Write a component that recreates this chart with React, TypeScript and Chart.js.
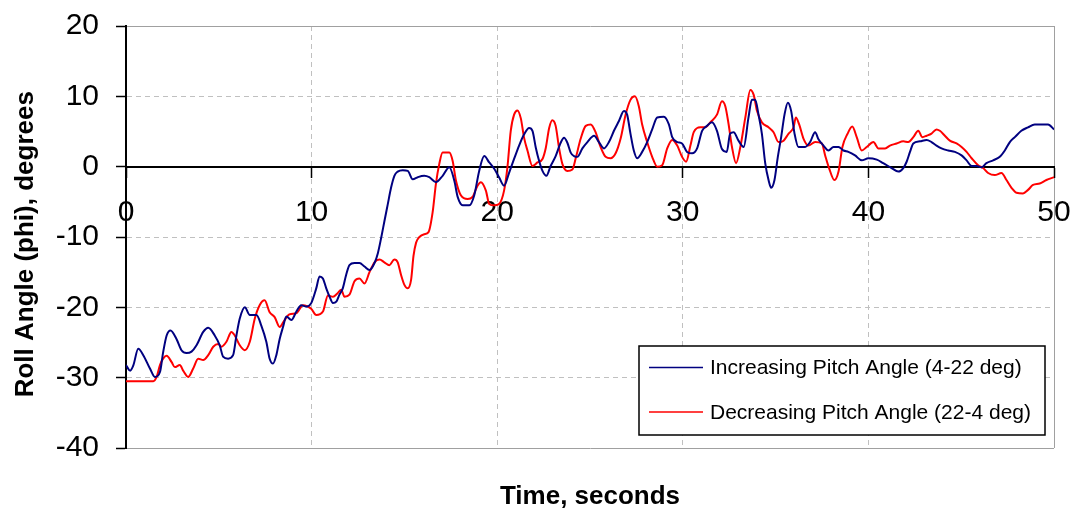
import React, { useEffect, useRef } from "react";
import { Chart, registerables } from "chart.js";

Chart.register(...registerables);

const seriesNames = ["Increasing Pitch Angle (4-22 deg)", "Decreasing Pitch Angle (22-4 deg)"];
const seriesColors = ["#000080", "#ff0000"];

const blueT = [0, 0.22, 0.39, 0.66, 0.93, 1.29, 1.56, 1.83, 2.0, 2.19, 2.4, 2.72, 2.99, 3.26, 3.53, 3.8, 4.16, 4.43, 4.78, 5.05, 5.23, 5.5, 5.77, 5.95, 6.13, 6.4, 6.67, 7.03, 7.29, 7.56, 7.74, 7.92, 8.1, 8.28, 8.46, 8.64, 8.91, 9.18, 9.44, 9.71, 9.98, 10.25, 10.43, 10.61, 10.79, 10.97, 11.15, 11.33, 11.5, 11.68, 11.86, 12.04, 12.31, 12.58, 12.85, 13.12, 13.39, 13.57, 13.75, 13.92, 14.1, 14.28, 14.46, 14.64, 14.91, 15.18, 15.45, 15.72, 16.07, 16.34, 16.7, 17.06, 17.42, 17.69, 17.87, 18.14, 18.5, 18.76, 19.03, 19.3, 19.57, 19.84, 20.1, 20.37, 20.65, 20.91, 21.18, 21.45, 21.72, 21.9, 22.08, 22.26, 22.44, 22.65, 22.88, 23.15, 23.42, 23.6, 23.78, 23.96, 24.14, 24.32, 24.59, 24.86, 25.22, 25.48, 25.75, 26.02, 26.29, 26.56, 26.83, 27.0, 27.18, 27.36, 27.54, 27.81, 28.08, 28.35, 28.62, 28.98, 29.25, 29.43, 29.7, 29.96, 30.23, 30.5, 30.77, 31.04, 31.3, 31.57, 31.84, 32.11, 32.37, 32.55, 32.74, 33.0, 33.28, 33.54, 33.72, 33.9, 34.08, 34.26, 34.44, 34.62, 34.76, 34.94, 35.12, 35.3, 35.48, 35.66, 35.84, 36.02, 36.23, 36.59, 36.86, 37.13, 37.31, 37.58, 37.85, 38.12, 38.39, 38.66, 38.92, 39.28, 39.64, 40.0, 40.45, 40.8, 41.25, 41.61, 41.88, 42.06, 42.24, 42.42, 42.78, 43.14, 43.4, 43.67, 43.94, 44.3, 44.66, 45.02, 45.29, 45.56, 45.82, 46.09, 46.36, 46.72, 47.08, 47.35, 47.62, 47.89, 48.24, 48.6, 48.96, 49.32, 49.68, 50];
const blueV = [-28.2, -29, -28.3, -25.9, -26.8, -28.7, -29.9, -29.2, -26.4, -24, -23.3, -24.5, -26.1, -26.5, -26.3, -25.4, -23.5, -22.9, -24, -25.4, -27, -27.3, -26.8, -24, -21.6, -20, -21.1, -21.1, -22.6, -24.9, -27.3, -28, -26.8, -24.5, -22.8, -21.3, -21.8, -20.6, -19.7, -19.9, -19.4, -17.3, -15.6, -15.9, -17.3, -18.5, -19.4, -19.2, -18.2, -17.3, -15.4, -14, -13.7, -13.7, -14.2, -14.7, -13.7, -12.3, -10.1, -7.8, -5.4, -3, -1.3, -0.7, -0.5, -0.6, -1.8, -1.5, -1.3, -1.5, -2.2, -1.3, -0.1, -2, -4.3, -5.5, -5.5, -4.1, -0.6, 1.5, 0.6, -0.3, -1.5, -2.7, -0.8, 1.1, 3, 4.6, 5.5, 5.1, 2.7, 0.8, -0.6, -1.3, 0.1, 1.5, 3.4, 4.1, 3.4, 2, 1.5, 1.4, 2.6, 3.5, 4.4, 3.5, 2.6, 3.5, 5.1, 6.5, 7.9, 7.4, 4.7, 2.3, 1.2, 2.1, 3.5, 5.3, 7, 7.1, 6, 4.2, 3.5, 3.3, 2.1, 1.9, 2.6, 5.1, 5.8, 6.3, 5.1, 2.5, 2.1, 4.7, 4.9, 3.7, 2.8, 7, 9.5, 9.5, 7.4, 4.7, 0.5, -1.9, -3, -1.9, 1.4, 4.2, 7.4, 9.1, 7.9, 4.7, 2.8, 2.8, 3.5, 4.9, 3.9, 3, 2.3, 2.8, 2.8, 2.3, 2.1, 1.6, 0.9, 1.2, 1, 0.5, -0.2, -0.7, -0.2, 0.7, 2.1, 3.3, 3.6, 3.8, 3.5, 3, 2.6, 2.3, 2.1, 1.6, 0.9, 0.1, 0.1, -0.1, 0.5, 0.9, 1.4, 2.3, 3.5, 4.2, 5.1, 5.6, 6, 6, 6, 5.3];

const redT = [0, 1.47, 1.65, 1.83, 2.0, 2.19, 2.46, 2.63, 2.9, 3.08, 3.35, 3.62, 3.89, 4.16, 4.43, 4.7, 4.97, 5.14, 5.41, 5.68, 5.86, 6.13, 6.4, 6.67, 6.94, 7.2, 7.47, 7.74, 8.01, 8.28, 8.5, 8.8, 9.2, 9.53, 9.98, 10.25, 10.61, 10.88, 11.15, 11.4, 11.6, 11.77, 12.04, 12.31, 12.58, 12.85, 13.12, 13.39, 13.66, 13.92, 14.19, 14.46, 14.64, 14.82, 15.0, 15.18, 15.36, 15.49, 15.63, 15.81, 16.07, 16.3, 16.52, 16.7, 16.88, 17.06, 17.42, 17.6, 17.78, 18.05, 18.41, 18.67, 18.94, 19.12, 19.39, 19.57, 19.84, 20.1, 20.37, 20.55, 20.73, 20.91, 21.09, 21.27, 21.45, 21.63, 21.9, 22.17, 22.44, 22.62, 22.8, 22.97, 23.15, 23.33, 23.51, 23.78, 24.05, 24.23, 24.5, 24.77, 25.04, 25.3, 25.57, 25.84, 26.11, 26.38, 26.65, 26.92, 27.18, 27.42, 27.63, 27.81, 28.08, 28.35, 28.62, 28.89, 29.16, 29.43, 29.7, 29.96, 30.18, 30.41, 30.59, 30.95, 31.22, 31.48, 31.84, 32.11, 32.29, 32.47, 32.65, 32.87, 33.1, 33.37, 33.64, 33.82, 34.0, 34.26, 34.62, 34.89, 35.16, 35.43, 35.7, 35.97, 36.09, 36.27, 36.5, 36.77, 37.13, 37.49, 37.67, 37.88, 38.17, 38.39, 38.6, 38.88, 39.13, 39.37, 39.64, 39.91, 40.27, 40.54, 40.9, 41.16, 41.52, 41.88, 42.15, 42.42, 42.69, 42.9, 43.14, 43.4, 43.67, 43.85, 44.12, 44.39, 44.75, 45.02, 45.29, 45.56, 45.91, 46.18, 46.45, 46.81, 47.17, 47.44, 47.71, 47.98, 48.33, 48.6, 48.87, 49.23, 49.59, 50];
const redV = [-30.5, -30.5, -29.9, -28.2, -27.3, -26.9, -27.8, -28.5, -28.2, -29, -29.9, -28.7, -27.3, -27.5, -26.8, -25.6, -25.2, -25.6, -24.9, -23.5, -24, -25.4, -26.1, -24.9, -21.6, -19.7, -19, -20.7, -21.4, -22.8, -22, -21, -20.8, -19.7, -20.2, -21.1, -20.6, -18.3, -18.5, -18, -17.5, -18.5, -18.2, -16.3, -15.9, -16.6, -15, -13.6, -13.2, -13.6, -14, -13.2, -13.6, -15.4, -16.8, -17.3, -16.1, -12.7, -10.8, -10, -9.6, -9.3, -6.5, -2.4, 0.4, 2, 2, 0.8, -2, -4.1, -4.6, -4.3, -2.7, -2.2, -3.4, -5.3, -5.5, -5.3, -3.4, -0.1, 5.1, 7.4, 8, 6.9, 4.1, 2.3, 0.1, 0.6, 1.1, 2.7, 5.5, 6.6, 5.8, 2.7, 0.4, -0.6, -0.4, 1.2, 4, 5.8, 6, 4.9, 2.8, 1.4, 1.2, 1.9, 4, 7.4, 9.5, 10, 8.6, 6, 3.5, 1.4, 0, 0.2, 2.6, 3.8, 3, 1.4, 0.7, 3, 4.9, 5.6, 5.6, 6.3, 7.4, 9.3, 8.6, 6, 2.8, 0.5, 2.8, 7, 10.9, 10.2, 7.9, 6.3, 5.6, 4.9, 3.5, 3.7, 4.7, 5.6, 7, 6, 4, 3, 3.5, 3.3, 1.6, -0.2, -1.9, -0.7, 2.8, 4.7, 5.7, 4.2, 2.3, 2.8, 3.5, 2.6, 2.6, 3, 3.3, 3.6, 3.5, 4.2, 5.1, 4.2, 4.4, 4.7, 5.3, 5.1, 4.4, 3.7, 3.3, 2.8, 2.1, 1.2, 0.2, -0.2, -0.9, -1.2, -0.9, -1.9, -3, -3.7, -3.8, -3.3, -2.6, -2.4, -1.9, -1.5];

const xMin = 0, xMax = 50, xStep = 10;
const yMin = -40, yMax = 20, yStep = 10;
const xTitle = "Time, seconds";
const yTitle = "Roll Angle (phi), degrees";

const FONT = "'Liberation Sans', Arial, sans-serif";

const legendPlugin = {
  id: "boxLegend",
  afterDraw(chart: any) {
    const { ctx, chartArea: ca } = chart;
    const left = ca.right - 415;
    const right = ca.right - 9;
    const top = ca.bottom - 102;
    const bottom = ca.bottom - 13;
    ctx.save();
    ctx.fillStyle = "#ffffff";
    ctx.fillRect(left, top, right - left, bottom - top);
    ctx.strokeStyle = "#000";
    ctx.lineWidth = 1.5;
    ctx.strokeRect(left, top, right - left, bottom - top);
    const rows = [top + 21.5, top + 66];
    chart.data.datasets.forEach((ds: any, i: number) => {
      const y = rows[i];
      ctx.strokeStyle = ds.borderColor;
      ctx.lineWidth = 1.5;
      ctx.beginPath();
      ctx.moveTo(left + 10, y);
      ctx.lineTo(left + 64, y);
      ctx.stroke();
      ctx.fillStyle = "#000";
      ctx.font = `21px ${FONT}`;
      ctx.textBaseline = "middle";
      ctx.textAlign = "left";
      ctx.fillText(ds.label, left + 71, y + 1);
    });
    ctx.restore();
  },
};

export default function App() {
  const ref = useRef<HTMLCanvasElement | null>(null);
  useEffect(() => {
    document.body.style.margin = "0";
    if (!ref.current) return;
    const blue = blueT.map((t, i) => ({ x: t, y: blueV[i] }));
    const red = redT.map((t, i) => ({ x: t, y: redV[i] }));
    const chart = new Chart(ref.current, {
      type: "line",
      data: {
        datasets: [
          { label: seriesNames[0], data: blue, borderColor: seriesColors[0], borderWidth: 2, pointRadius: 0, cubicInterpolationMode: "monotone", fill: false },
          { label: seriesNames[1], data: red, borderColor: seriesColors[1], borderWidth: 2, pointRadius: 0, cubicInterpolationMode: "monotone", fill: false },
        ],
      },
      options: {
        responsive: false,
        animation: false,
        layout: { padding: { top: 26, right: 22, left: 0, bottom: 0 } },
        plugins: { legend: { display: false }, tooltip: { enabled: false } },
        scales: {
          x: {
            type: "linear",
            min: xMin,
            max: xMax,
            position: "bottom",
            ticks: { display: false, stepSize: xStep },
            grid: {
              drawTicks: false,
              color: (c: any) => (c.tick && c.tick.value === xMax ? "#a0a0a0" : c.tick && c.tick.value === xMin ? "rgba(0,0,0,0)" : "#c0c0c0"),
              lineWidth: 1,
            },
            border: { display: false, dash: (c: any) => (c.tick && c.tick.value === xMax ? [] : [5, 4]) },
            title: { display: true, text: xTitle, color: "#000", font: { family: FONT, size: 26, weight: "bold" }, padding: { top: 0, bottom: -2 } },
            afterFit: (s: any) => { s.height = 62; s.paddingLeft = 0; s.paddingRight = 0; },
          },
          x2: {
            type: "linear",
            min: xMin,
            max: xMax,
            position: { y: 0 },
            ticks: { stepSize: xStep, color: "#000", font: { family: FONT, size: 30 }, padding: 18, maxRotation: 0, autoSkip: false },
            grid: { display: true, drawOnChartArea: false, drawTicks: true, tickLength: 10, tickColor: "#000", tickWidth: 1.5 },
            border: { display: true, color: "#000", width: 2 },
            afterFit: (s: any) => { s.height = 0; s.paddingLeft = 0; s.paddingRight = 0; },
          },
          y: {
            type: "linear",
            min: yMin,
            max: yMax,
            position: "left",
            ticks: { stepSize: yStep, color: "#000", font: { family: FONT, size: 30 }, padding: 17 },
            grid: {
              color: (c: any) => (c.tick && (c.tick.value === yMax || c.tick.value === yMin) ? "#a0a0a0" : c.tick && c.tick.value === 0 ? "rgba(0,0,0,0)" : "#c0c0c0"),
              lineWidth: 1,
              tickColor: "#000",
              tickLength: 10,
              tickWidth: 1.5,
            },
            border: {
              display: true,
              color: "#000",
              width: 2,
              dash: (c: any) => (c.tick && (c.tick.value === yMax || c.tick.value === yMin) ? [] : [5, 4]),
            },
            title: { display: true, text: yTitle + "  ", color: "#000", font: { family: FONT, size: 26, weight: "bold" }, padding: { top: 10, bottom: 0 } },
            afterFit: (s: any) => { s.width = 126; s.paddingTop = 0; s.paddingBottom = 0; },
          },
        },
      },
      plugins: [legendPlugin],
    });
    return () => chart.destroy();
  }, []);
  return <canvas ref={ref} width={1076} height={510} style={{ display: "block" }} />;
}
